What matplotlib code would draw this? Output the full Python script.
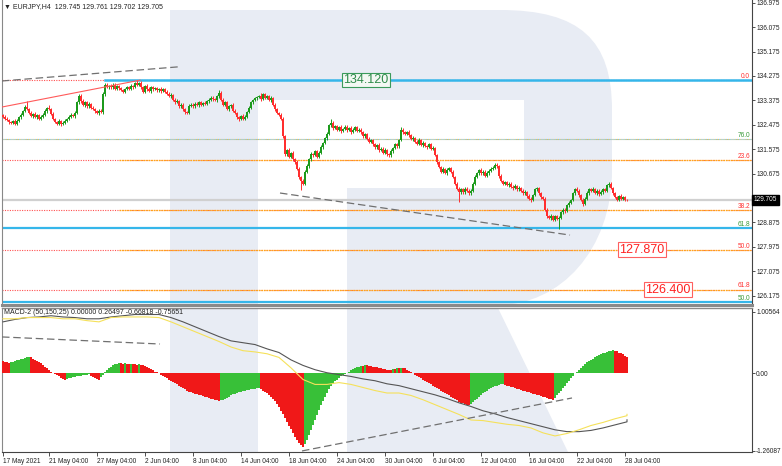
import numpy as np
import matplotlib
matplotlib.use('Agg')
import matplotlib.pyplot as plt
from matplotlib.path import Path
from matplotlib.patches import PathPatch, Polygon

plt.rcParams['font.family'] = ['Liberation Sans', 'DejaVu Sans']

# ---------------- data ----------------
closes = [
132.78,132.70,132.65,132.58,132.55,132.60,132.52,132.62,132.75,132.85,
132.98,133.12,133.05,132.92,132.80,132.88,132.75,132.82,132.70,132.78,
132.85,132.98,133.10,133.05,132.88,132.70,132.58,132.52,132.60,132.50,
132.55,132.62,132.70,132.78,132.85,132.80,132.92,133.30,133.55,133.35,
133.20,133.30,133.15,133.25,133.10,133.05,132.98,132.92,133.00,132.95,
133.60,133.95,133.88,133.92,133.85,133.95,133.80,133.90,133.82,133.75,
133.70,133.78,133.85,133.80,133.92,133.88,134.00,133.95,134.02,133.85,
133.70,133.90,133.80,133.72,133.85,133.78,133.82,133.75,133.80,133.72,
133.78,133.68,133.62,133.55,133.58,133.40,133.30,133.35,133.15,133.22,
133.05,132.95,132.92,133.18,133.22,133.15,133.25,133.20,133.30,133.22,
133.28,133.25,133.35,133.40,133.48,133.42,133.38,133.55,133.65,133.40,
133.22,133.30,133.05,133.15,133.20,133.00,132.90,132.75,132.68,132.80,
132.70,132.78,132.95,133.10,133.30,133.40,133.45,133.50,133.55,133.42,
133.60,133.48,133.52,133.40,133.45,133.20,133.05,132.90,132.85,132.70,
132.05,131.40,131.55,131.30,131.45,131.20,131.10,130.85,130.55,130.40,
130.30,130.75,130.95,131.20,131.40,131.35,131.50,131.30,131.45,131.65,
131.80,132.00,132.15,132.45,132.55,132.35,132.42,132.30,132.38,132.25,
132.32,132.40,132.28,132.35,132.22,132.30,132.38,132.25,132.30,132.20,
132.05,132.12,131.95,131.85,131.90,131.75,131.65,131.72,131.55,131.60,
131.45,131.55,131.38,131.35,131.50,131.62,131.75,131.68,131.90,132.30,
132.20,132.15,132.22,132.10,131.95,132.00,131.85,131.78,131.90,131.72,
131.80,131.70,131.65,131.75,131.60,131.62,131.35,131.10,130.92,130.75,
130.85,130.70,130.80,130.88,130.75,130.55,130.30,130.10,130.00,130.10,
129.98,130.12,130.05,129.95,130.05,130.30,130.55,130.70,130.80,130.68,
130.75,130.60,130.70,130.78,130.85,130.90,131.00,130.95,130.60,130.40,
130.30,130.35,130.25,130.30,130.20,130.15,130.22,130.10,130.15,130.05,
129.95,130.00,129.85,129.75,129.70,129.90,130.10,130.15,129.95,129.80,
129.75,129.35,129.10,129.05,129.12,128.98,129.10,129.00,129.05,129.25,
129.35,129.30,129.50,129.60,129.70,129.95,130.10,130.05,129.90,129.70,
129.55,129.75,129.95,130.10,130.05,130.12,129.95,130.05,129.92,130.00,
130.10,130.05,130.25,130.30,130.15,129.95,129.80,129.72,129.85,129.75,
129.80,129.72,129.705]
first_open = 132.82

# upper / lower wick lengths in hundredths of a yen
wick_up = [
5,4,6,3,5,4,7,5,4,6, 5,8,24,6,5,4,7,5,6,4, 5,6,4,10,5,6,4,5,7,4, 5,6,4,5,7,4,6,5,7,5,
6,4,5,7,4,5,6,4,5,6, 8,6,5,4,7,5,6,4,5,6, 4,5,6,7,5,4,6,12,5,6, 4,5,7,6,4,5,6,5,4,6,
5,4,6,5,7,4,5,6,4,5, 6,4,5,7,5,4,6,5,7,4, 5,6,4,5,7,6,5,4,10,6, 5,4,6,5,4,7,5,6,4,5,
6,4,5,7,5,4,6,5,4,8, 5,6,4,5,7,4,6,5,4,6, 8,6,5,7,4,6,5,7,6,5, 6,5,7,4,6,5,4,6,5,7,
5,4,6,7,13,5,4,6,5,7, 4,5,6,4,7,5,6,4,5,6, 5,7,4,6,5,4,6,5,7,4, 5,6,4,5,7,4,6,5,4,10,
6,5,4,7,5,6,4,5,7,4, 6,5,4,6,5,7,4,6,5,4, 6,5,7,4,5,6,4,5,7,5, 4,6,5,7,4,5,6,4,5,7,
5,4,6,5,7,4,6,5,4,6, 5,7,4,6,5,4,6,5,7,4, 5,6,4,7,5,4,6,5,4,6, 5,7,4,6,5,4,6,5,7,4,
6,5,4,7,5,6,4,8,5,4, 6,5,7,4,6,5,4,6,5,7, 5,4,6,5,7,4,6,5,4,6, 5,4,3]
wick_dn = [
4,6,5,7,4,5,6,4,5,7, 6,5,4,6,5,7,4,6,5,4, 6,5,7,4,6,5,4,6,5,7, 4,5,6,4,7,5,6,4,5,6,
5,7,4,6,5,4,6,5,7,4, 6,5,4,7,5,6,4,5,7,4, 6,5,4,6,5,7,4,6,5,4, 6,5,7,4,6,5,4,6,5,7,
4,5,6,4,7,5,6,4,5,6, 5,7,4,6,5,4,6,5,7,4, 6,5,4,7,5,6,4,5,7,4, 6,5,4,6,5,7,4,6,5,4,
6,5,7,4,6,5,4,6,5,7, 4,5,6,4,7,5,6,4,5,6, 5,7,8,6,5,7,6,5,7,33, 6,5,4,6,5,7,4,6,5,4,
6,5,7,4,6,5,4,6,5,7, 4,5,6,4,7,5,6,4,5,6, 5,7,4,6,5,4,6,5,7,4, 6,5,4,7,5,6,4,5,7,4,
6,5,4,6,5,7,4,6,5,4, 6,5,7,4,6,5,4,6,5,7, 4,5,6,4,7,5,6,4,37,6, 5,7,4,6,5,4,6,5,7,4,
6,5,4,7,5,6,4,5,7,4, 6,5,4,6,5,7,4,6,5,4, 6,5,7,4,6,5,4,6,5,7, 4,5,6,4,7,5,6,4,38,6,
5,7,4,6,5,4,6,5,7,4, 6,5,4,7,5,6,4,5,7,4, 6,5,4,6,5,7,4,6,5,4, 5,4,3]

macd_hist = [
0.20,0.19,0.18,0.17,
0.18,0.19,0.20,0.21,0.22,0.23,0.24,0.25,0.26,0.27,
0.26,0.24,0.22,0.20,0.19,
0.17,0.14,0.11,0.08,0.05,0.03,0.01,
-0.01,-0.03,-0.05,-0.07,-0.09,-0.10,
-0.09,-0.08,-0.07,-0.065,-0.06,-0.05,
-0.04,-0.035,-0.03,-0.025,-0.02,-0.015,
-0.04,-0.06,-0.08,-0.09,-0.10,
-0.06,-0.02,0.02,0.05,
0.08,0.11,0.13,0.15,0.16,0.17,
0.165,0.16,0.17,0.16,0.15,0.16,0.15,0.145,0.14,0.15,0.14,0.13,0.12,0.11,
0.09,0.07,0.05,0.03,0.02,0.0,
-0.02,-0.04,-0.06,-0.08,-0.10,-0.12,-0.14,-0.16,-0.18,-0.20,-0.22,-0.24,
-0.26,-0.28,-0.30,-0.31,-0.32,-0.33,-0.34,-0.35,-0.36,-0.37,-0.38,-0.39,-0.40,-0.41,-0.42,-0.43,-0.44,-0.45,
-0.44,-0.43,-0.42,-0.40,-0.38,-0.36,-0.34,-0.33,-0.32,-0.31,-0.30,-0.29,-0.28,-0.27,-0.265,-0.26,-0.255,-0.25,-0.245,-0.24,
-0.26,-0.28,-0.30,-0.32,-0.35,-0.38,-0.41,-0.45,-0.50,-0.55,-0.61,-0.67,-0.73,-0.79,-0.85,-0.91,-0.97,-1.03,-1.08,-1.13,-1.17,-1.20,
-1.15,-1.08,-1.00,-0.92,-0.84,-0.76,-0.68,-0.60,-0.52,-0.45,-0.38,-0.32,-0.26,-0.21,-0.17,-0.13,-0.10,-0.07,-0.05,-0.03,-0.01,
0.01,0.03,0.05,0.07,0.09,0.10,0.11,0.12,0.12,0.13,0.13,0.12,0.12,0.11,0.11,
0.10,0.09,0.08,0.07,0.07,0.06,0.06,0.06,0.07,0.07,0.08,0.08,0.09,0.09,0.08,
0.06,0.04,0.02,0.0,-0.02,-0.04,-0.06,-0.08,-0.10,-0.12,-0.14,-0.16,-0.18,-0.20,-0.22,-0.24,
-0.26,-0.28,-0.30,-0.32,-0.34,-0.36,-0.38,-0.40,-0.42,-0.44,-0.46,-0.48,-0.49,-0.50,-0.51,-0.52,
-0.50,-0.47,-0.44,-0.41,-0.38,-0.35,-0.32,-0.30,-0.28,-0.26,-0.24,-0.22,-0.21,-0.20,-0.19,-0.18,-0.175,
-0.19,-0.20,-0.21,-0.22,-0.23,-0.24,-0.25,-0.26,-0.27,-0.28,-0.29,-0.30,-0.31,-0.32,-0.33,-0.34,-0.35,-0.36,-0.37,-0.38,-0.39,-0.40,-0.41,-0.42,-0.43,
-0.40,-0.36,-0.32,-0.28,-0.24,-0.20,-0.16,-0.12,-0.08,-0.04,0.0,0.03,0.06,0.09,0.12,0.15,0.18,0.20,0.22,0.24,0.26,0.28,0.30,0.32,0.33,0.34,0.35,0.36,0.37,0.38,
0.37,0.36,0.34,0.33,0.31,0.29,0.265]

line_idx = list(range(0, 313, 6)) + [312]
macd_main = [0.84,0.88,0.91,0.92,0.94,0.92,0.91,0.89,0.89,0.92,0.94,0.96,0.96,0.96,0.91,0.84,
             0.76,0.68,0.60,0.53,0.50,0.47,0.40,0.34,0.22,0.13,0.06,0.01,-0.02,-0.05,-0.09,-0.12,
             -0.17,-0.20,-0.25,-0.30,-0.35,-0.41,-0.48,-0.54,-0.61,-0.66,-0.72,-0.77,-0.82,-0.87,
             -0.92,-0.95,-0.95,-0.93,-0.89,-0.84,-0.79,-0.757]
macd_signal = [0.89,0.89,0.91,0.91,0.91,0.89,0.89,0.86,0.84,0.91,0.92,0.92,0.92,0.91,0.84,0.76,
               0.68,0.60,0.52,0.43,0.37,0.35,0.32,0.26,0.09,-0.10,-0.18,-0.18,-0.15,-0.18,-0.23,-0.28,
               -0.32,-0.32,-0.36,-0.43,-0.51,-0.59,-0.67,-0.76,-0.77,-0.80,-0.83,-0.85,-0.89,-0.97,
               -1.02,-0.98,-0.92,-0.85,-0.80,-0.74,-0.69,-0.668]

date_ticks = [0, 23, 47, 71, 95, 119, 143, 167, 191, 215, 239, 263, 287, 311]
date_labels = ["17 May 2021", "21 May 04:00", "27 May 04:00", "2 Jun 04:00", "8 Jun 04:00",
               "14 Jun 04:00", "18 Jun 04:00", "24 Jun 04:00", "30 Jun 04:00", "6 Jul 04:00",
               "12 Jul 04:00", "16 Jul 04:00", "22 Jul 04:00", "28 Jul 04:00"]
price_ticks = [136.975, 136.075, 135.175, 134.275, 133.375, 132.475, 131.575, 130.675,
               128.875, 127.975, 127.075, 126.175]
macd_ticks = [1.00564, 0.0, -1.26087]
macd_tick_labels = ["1.00564", "0.00", "-1.26087"]
last_price = 129.705

# fibonacci / level data
fib_red = [(134.120, "0.0"), (131.160, "23.6"), (129.330, "38.2"), (127.870, "50.0"), (126.400, "61.8")]
fib_green = [(131.950, "76.0"), (128.670, "61.8"), (125.940, "50.0")]
orange_levels = [131.160, 129.330, 127.870, 126.400]
orange_start = 58
blue_top_level = 134.120
blue_top_start = 51
blue_levels = [128.670, 125.940]
boxed = [(134.120, "134.120", 181.5, 'green'), (127.870, "127.870", 319.5, 'red'), (126.400, "126.400", 332.5, 'red')]

# trend lines (bar index, value)
tl_main_dash1 = ([-0.5, 87.5], [134.09, 134.61])
tl_main_red = ([-0.5, 68.5], [133.13, 134.12])
tl_main_dash2 = ([138.5, 283.5], [129.96, 128.41])
tl_macd_dash1 = ([-0.5, 78.5], [0.594, 0.479])
tl_macd_dash2 = ([149.5, 284.5], [-1.265, -0.401])

# ---------------- figure ----------------
W, H = 782, 466
fig = plt.figure(figsize=(W / 100, H / 100), dpi=100)
fig.patch.set_facecolor('white')

def fx(x):
    return x / W

def fy(y):
    return 1 - y / H

# watermark "R"
wm = '#e8ecf4'
verts = [(170, 10), (500, 10), (580, 10), (612, 40), (612, 110), (612, 170),
         (612, 250), (560, 305), (498, 305), (347, 305), (347, 188), (524, 188),
         (524, 100), (258, 100), (258, 305), (170, 305), (170, 10)]
codes = [Path.MOVETO, Path.LINETO, Path.CURVE4, Path.CURVE4, Path.CURVE4, Path.LINETO,
         Path.CURVE4, Path.CURVE4, Path.CURVE4, Path.LINETO, Path.LINETO, Path.LINETO,
         Path.LINETO, Path.LINETO, Path.LINETO, Path.LINETO, Path.CLOSEPOLY]
p = Path([(fx(a), fy(b)) for a, b in verts], codes)
fig.patches.append(PathPatch(p, transform=fig.transFigure, facecolor=wm, edgecolor='none', zorder=-5))
for poly in ([(170, 308), (258, 308), (258, 452), (170, 452)],
             [(347, 308), (498, 308), (568, 452), (347, 452)]):
    fig.patches.append(Polygon([(fx(a), fy(b)) for a, b in poly], closed=True, transform=fig.transFigure,
                               facecolor=wm, edgecolor='none', zorder=-5))

ax = fig.add_axes([fx(2), fy(305), (752 - 2) / W, 305 / H])
axm = fig.add_axes([fx(2), fy(452), (752 - 2) / W, (452 - 308) / H])
for a in (ax, axm):
    a.set_facecolor('none')
    a.set_xlim(-0.5, 374.5)

ax.set_ylim(125.832, 137.075)
axm.set_ylim(-1.282, 1.066)

n = len(closes)
idx = np.arange(n)
c = np.array(closes)
o = np.concatenate([[first_open], c[:-1]])
hi = np.maximum(o, c) + np.array(wick_up[:n]) / 100.0
lo = np.minimum(o, c) - np.array(wick_dn[:n]) / 100.0
up = c >= o
green = '#1c9a1c'
red = '#ff2e2e'
cols = np.where(up, green, red)

# levels first (below candles)
xl = (-0.5, 374.5)
ax.axhline(last_price, color='#d0d0d0', lw=1.6, zorder=1)
for lv, lab in fib_red:
    ax.plot(xl, [lv, lv], color='#ff5050', lw=0.8, ls=(0, (1, 1.2)), zorder=2)
for lv in orange_levels:
    ax.plot([orange_start, 374.5], [lv, lv], color='#ffa61a', lw=0.9, ls=(0, (1.5, 0.6)), zorder=2)
ax.plot(xl, [fib_green[0][0]] * 2, color='#f2c24a', lw=0.8, ls=(0, (1, 1)), zorder=2)
ax.plot(xl, [fib_green[0][0]] * 2, color='#7fc4ea', lw=0.8, ls=(1, (1, 1)), zorder=2)
for lv in blue_levels:
    ax.plot(xl, [lv, lv], color='#35b6ea', lw=1.6, zorder=2)
ax.plot([blue_top_start, 374.5], [blue_top_level] * 2, color='#35b6ea', lw=1.8, zorder=2)

# candles
ax.vlines(idx, lo, hi, colors=cols, lw=0.7, zorder=3)
body_h = np.maximum(np.abs(c - o), 0.015)
ax.bar(idx, body_h, bottom=np.minimum(o, c), width=0.95, color=cols, edgecolor='none', zorder=4)

# trend lines
ax.plot(*tl_main_dash1, color='#707070', lw=0.9, ls=(0, (6, 3)), zorder=5)
ax.plot(*tl_main_red, color='#ff5a5a', lw=0.8, zorder=5)
ax.plot(*tl_main_dash2, color='#707070', lw=0.9, ls=(0, (6, 3)), zorder=5)

FS = 4.7
# fib labels
lab_x = 373.5
for lv, lab in fib_red:
    ax.annotate(lab, (lab_x, lv), xytext=(0, 2.6), textcoords='offset points', ha='right', va='center',
                fontsize=FS, color='#ff3030', zorder=6)
for lv, lab in fib_green:
    ax.annotate(lab, (lab_x, lv), xytext=(0, 2.6), textcoords='offset points', ha='right', va='center',
                fontsize=FS, color='#3a9a3a', zorder=6)

for lv, txt, xi, kind in boxed:
    if kind == 'green':
        fc, ec, tc = '#f3f8f3', '#3a9a5a', '#2e8b4a'
    else:
        fc, ec, tc = 'white', '#ff6060', '#ff2020'
    ax.text(xi, lv, txt, ha='center', va='center', fontsize=9, color=tc, zorder=7,
            bbox=dict(boxstyle='square,pad=0.1', fc=fc, ec=ec, lw=0.8))

# MACD panel
hv = np.array(macd_hist)
hidx = np.arange(len(hv))
prev = np.concatenate([[hv[0] + 1], hv[:-1]])
hcols = np.where(hv > prev, '#38c038', '#f01818')
axm.bar(hidx, hv, width=0.8, color=hcols, edgecolor='none', zorder=3)
axm.plot(line_idx, macd_main, color='#555555', lw=0.8, zorder=4)
axm.plot(line_idx, macd_signal, color='#f5e15a', lw=0.8, zorder=4)
axm.plot(*tl_macd_dash1, color='#707070', lw=0.9, ls=(0, (6, 3)), zorder=5)
axm.plot(*tl_macd_dash2, color='#707070', lw=0.9, ls=(0, (6, 3)), zorder=5)

# axes styling
for a in (ax, axm):
    a.spines['top'].set_visible(False)
    a.spines['left'].set_color('#888888')
    a.spines['right'].set_color('#444444')
    a.spines['left'].set_linewidth(0.8)
    a.spines['right'].set_linewidth(0.8)
    a.yaxis.tick_right()
    a.tick_params(axis='y', direction='out', length=2, width=0.6, pad=1.0, labelsize=FS,
                  colors='#333333', labelcolor='#222222')
ax.spines['bottom'].set_color('#8a8a8a')
ax.spines['bottom'].set_linewidth(2.2)
axm.spines['bottom'].set_color('#444444')
axm.spines['bottom'].set_linewidth(0.8)
axm.spines['top'].set_visible(True)
axm.spines['top'].set_color('#8a8a8a')
axm.spines['top'].set_linewidth(1.0)

ax.set_yticks(price_ticks)
ax.set_yticklabels([f"{v:.3f}" for v in price_ticks])
ax.set_xticks([])
axm.set_yticks(macd_ticks)
axm.set_yticklabels(macd_tick_labels)
axm.set_xticks(date_ticks)
axm.set_xticklabels(date_labels, ha='left')
axm.tick_params(axis='x', direction='out', length=3, width=0.6, pad=1.5, labelsize=FS,
                colors='#333333', labelcolor='#222222')

# last price tag
ax.annotate(f"{last_price:.3f}", (1, last_price), xycoords=('axes fraction', 'data'), xytext=(1.4, 0),
            textcoords='offset points', ha='left', va='center', fontsize=FS, color='white',
            bbox=dict(boxstyle='square,pad=0.25', fc='black', ec='black'), annotation_clip=False, zorder=8)

# headers
fig.text(fx(4), fy(7), "\u25bc EURJPY,H4  129.745 129.761 129.702 129.705", fontsize=FS + 0.3,
         color='#222222', ha='left', va='center')
fig.text(fx(4), fy(313), "MACD-2 (50,150,25) 0.00000 0.26497 -0.66818 -0.75651", fontsize=FS + 0.3,
         color='#222222', ha='left', va='center')

fig.savefig('out.png', dpi=100, facecolor='white')
